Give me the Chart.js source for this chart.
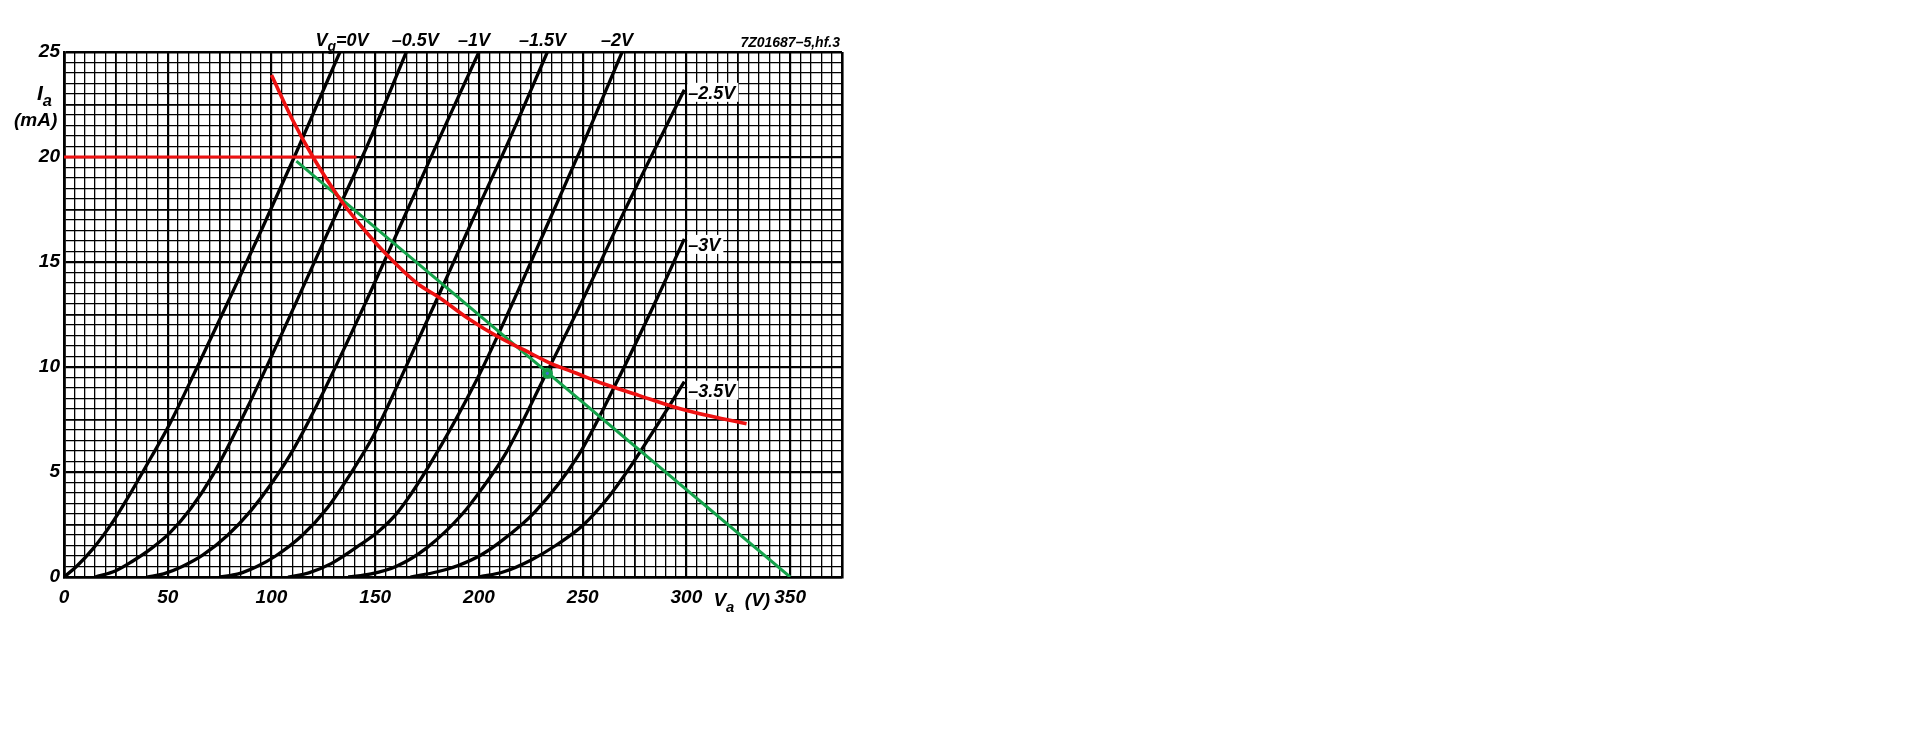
<!DOCTYPE html>
<html><head><meta charset="utf-8">
<style>html,body{margin:0;padding:0;background:#fff;}#wrap{width:1919px;height:734px;position:relative;background:#fff}</style>
<script src="https://cdn.jsdelivr.net/npm/chart.js@4.4.0/dist/chart.umd.min.js"></script>
</head><body><div id="wrap"><canvas id="c" width="1919" height="734"></canvas></div>
<script>
// ---- data (Va in V, Ia in mA) ----
const xTickLabels = [0, 50, 100, 150, 200, 250, 300, 350];
const yTickLabels = [0, 5, 10, 15, 20, 25];

const vg0V  = [0, 6, 14, 24, 33, 42, 51, 64, 80, 96, 111, 122, 133];
const vg0I  = [0, 0.5, 1.35, 2.7, 4.15, 5.7, 7.3, 9.95, 13.3, 16.7, 20, 22.5, 25];
const vg05V = [15, 25, 33, 42, 51, 61, 72, 90, 112, 134, 146, 165];
const vg05I = [0, 0.3, 0.75, 1.35, 2.1, 3.25, 4.9, 8.4, 13.1, 17.9, 20.5, 25];
const vg1V  = [40, 48, 57, 67, 79, 90, 100, 111, 123, 146, 162, 181, 200];
const vg1I  = [0, 0.15, 0.5, 1.05, 2.0, 3.15, 4.45, 6.15, 8.4, 13.2, 16.7, 20.9, 25];
const vg15V = [75, 84, 93, 102, 115, 127, 138, 149, 162, 181, 196, 215, 233];
const vg15I = [0, 0.15, 0.5, 1.0, 2.0, 3.3, 4.9, 6.7, 9.4, 13.5, 16.8, 20.9, 25];
const vg2V  = [108, 118, 129, 143, 152, 161, 176, 199, 216, 234, 251, 269];
const vg2I  = [0, 0.2, 0.65, 1.55, 2.2, 3.1, 5.3, 9.4, 13.0, 17.0, 20.8, 25];
const vg25V = [137, 148, 160, 175, 192, 201, 213, 231, 251, 270, 299];
const vg25I = [0, 0.15, 0.5, 1.4, 3.0, 4.15, 5.9, 9.4, 13.4, 17.4, 23.2];
const vg3V  = [167, 180, 190, 201, 210, 227, 248, 266, 286, 299];
const vg3I  = [0, 0.25, 0.55, 1.05, 1.65, 3.1, 5.8, 9.2, 13.3, 16.1];
const vg35V = [200, 212, 225, 237, 250, 262, 274, 287, 299];
const vg35I = [0, 0.25, 0.8, 1.5, 2.45, 3.75, 5.4, 7.4, 9.3];

const paV = [100, 110, 120, 133, 145, 155, 170, 181, 195, 209, 222, 234, 247, 260, 277, 294, 312, 329];
const paI = [23.9, 21.8, 20, 18, 16.5, 15.4, 14, 13.3, 12.3, 11.45, 10.8, 10.2, 9.7, 9.2, 8.65, 8.1, 7.65, 7.3];
const limV = [0, 141];
const limI = [20, 20];
const loadV = [112, 350];
const loadI = [19.8, 0];
const opV = [233];
const opI = [9.7];

const topLabels  = ['0V', '\u20130.5V', '\u20131V', '\u20131.5V', '\u20132V'];
const sideLabels = ['\u20132.5V', '\u20133V', '\u20133.5V'];
const figCode = '7Z01687\u20135,hf.3';

// ---- build ----
const pts = (xs, ys) => xs.map((x, i) => ({x: x, y: ys[i]}));
const curves = [[vg0V, vg0I], [vg05V, vg05I], [vg1V, vg1I], [vg15V, vg15I], [vg2V, vg2I],
                [vg25V, vg25I], [vg3V, vg3I], [vg35V, vg35I]];
const FONT = '"Liberation Sans", Arial, sans-serif';
const GREEN = '#14a24a', RED = '#ee1111';

const datasets = [];
curves.forEach((c, k) => datasets.push({
  label: 'vg' + k, data: pts(c[0], c[1]), showLine: true, borderColor: '#000',
  borderWidth: 3.3, pointRadius: 0, cubicInterpolationMode: 'monotone', order: 5
}));
datasets.push({label: 'load', data: pts(loadV, loadI), showLine: true, borderColor: GREEN,
  borderWidth: 3, pointRadius: 0, order: 3});
datasets.push({label: 'pa', data: pts(paV, paI), showLine: true, borderColor: RED,
  borderWidth: 3.6, pointRadius: 0, cubicInterpolationMode: 'monotone', order: 2});
datasets.push({label: 'lim', data: pts(limV, limI), showLine: true, borderColor: RED,
  borderWidth: 3.2, pointRadius: 0, order: 2});
datasets.push({label: 'op', data: pts(opV, opI), showLine: false, pointRadius: 5.5,
  pointBackgroundColor: GREEN, pointBorderWidth: 0, order: 1});
datasets.push({label: 'opc', data: pts(opV, opI), showLine: false, pointRadius: 1.6,
  pointBackgroundColor: '#3b6fd0', pointBorderWidth: 0, order: 0});

function fnt(s) { return 'italic bold ' + s + 'px ' + FONT; }
function sub(ctx, parts, x, y, size) {
  let cx = x;
  parts.forEach(p => {
    const s = p[1] ? size * 0.78 : size;
    ctx.font = fnt(s);
    ctx.fillText(p[0], cx, y + (p[1] ? size * 0.3 : 0));
    cx += ctx.measureText(p[0]).width;
  });
  return cx - x;
}
function partsWidth(ctx, parts, size) {
  let w = 0;
  parts.forEach(p => { const s = p[1] ? size * 0.78 : size; ctx.font = fnt(s); w += ctx.measureText(p[0]).width; });
  return w;
}

const textPlugin = {
  id: 'texts',
  afterDraw(chart) {
    const ctx = chart.ctx, xs = chart.scales.x, ys = chart.scales.y, a = chart.chartArea;
    const topNudge = [2, 9, -5, -5, -5];
    const sideNudge = [2, 5, 8];
    ctx.save();
    ctx.fillStyle = '#000';
    ctx.textBaseline = 'alphabetic';
    ctx.textAlign = 'left';
    const S = 18;
    // y axis title
    sub(ctx, [['I', false], ['a', true]], a.left - 27, a.top + 48, 21);
    ctx.font = fnt(19);
    ctx.fillText('(mA)', a.left - 50, a.top + 74);
    // x axis title between 300 and 350
    sub(ctx, [['V', false], ['a', true], ['  (V)', false]], xs.getPixelForValue(300) + 27, a.bottom + 29, 19);
    // top labels over curve ends
    for (let k = 0; k < topLabels.length; k++) {
      const c = curves[k];
      const px = xs.getPixelForValue(c[0][c[0].length - 1]);
      const parts = k === 0 ? [['V', false], ['g', true], ['=' + topLabels[k], false]] : [[topLabels[k], false]];
      const w = partsWidth(ctx, parts, S);
      sub(ctx, parts, px - w / 2 + topNudge[k], a.top - 6, S);
    }
    // side labels at curve ends
    for (let k = 0; k < sideLabels.length; k++) {
      const c = curves[5 + k];
      const n = c[0].length - 1;
      const px = xs.getPixelForValue(c[0][n]);
      const py = ys.getPixelForValue(c[1][n]) + sideNudge[k];
      ctx.font = fnt(S);
      const w = ctx.measureText(sideLabels[k]).width;
      ctx.fillStyle = '#fff';
      ctx.fillRect(px + 3, py - 9, w + 4, 19);
      ctx.fillStyle = '#000';
      ctx.fillText(sideLabels[k], px + 4, py + 7);
    }
    // figure code
    ctx.font = fnt(14);
    ctx.textAlign = 'right';
    ctx.fillText(figCode, a.right - 2, a.top - 5);
    ctx.restore();
  }
};

const isMult = (v, m) => Math.abs(v / m - Math.round(v / m)) < 1e-6;
const TF = {family: FONT, style: 'italic', weight: 'bold', size: 19};

new Chart(document.getElementById('c'), {
  type: 'scatter',
  data: {datasets: datasets},
  plugins: [textPlugin],
  options: {
    responsive: false, animation: false, devicePixelRatio: 1,
    layout: {padding: {left: 0, right: 1077, top: 52, bottom: 0}},
    plugins: {legend: {display: false}, tooltip: {enabled: false}},
    scales: {
      x: {
        type: 'linear', min: 0, max: 375,
        afterFit: s => { s.height = 157; },
        ticks: {stepSize: 5, autoSkip: false, maxRotation: 0, padding: 9, color: '#000', font: TF,
          callback: v => (isMult(v, 50) && xTickLabels.indexOf(Math.round(v)) >= 0) ? String(Math.round(v)) : ''},
        grid: {drawTicks: false, color: '#000',
          lineWidth: ctx => { const v = ctx.tick.value; if (v === 0 || v === 375) return 2.6; if (isMult(v, 50)) return 2.2; if (isMult(v, 25)) return 1.8; return 1.3; }},
        border: {display: true, color: '#000', width: 2.6}
      },
      y: {
        type: 'linear', min: 0, max: 25,
        afterFit: s => { s.width = 64; },
        ticks: {stepSize: 0.5, autoSkip: false, padding: 4, color: '#000', font: TF,
          callback: v => (isMult(v, 5) && yTickLabels.indexOf(Math.round(v)) >= 0) ? String(Math.round(v)) : ''},
        grid: {drawTicks: false, color: '#000',
          lineWidth: ctx => { const v = ctx.tick.value; if (v === 0 || v === 25) return 2.6; if (isMult(v, 5)) return 2.2; if (isMult(v, 2.5)) return 1.8; return 1.3; }},
        border: {display: true, color: '#000', width: 2.6}
      }
    }
  }
});
</script></body></html>
